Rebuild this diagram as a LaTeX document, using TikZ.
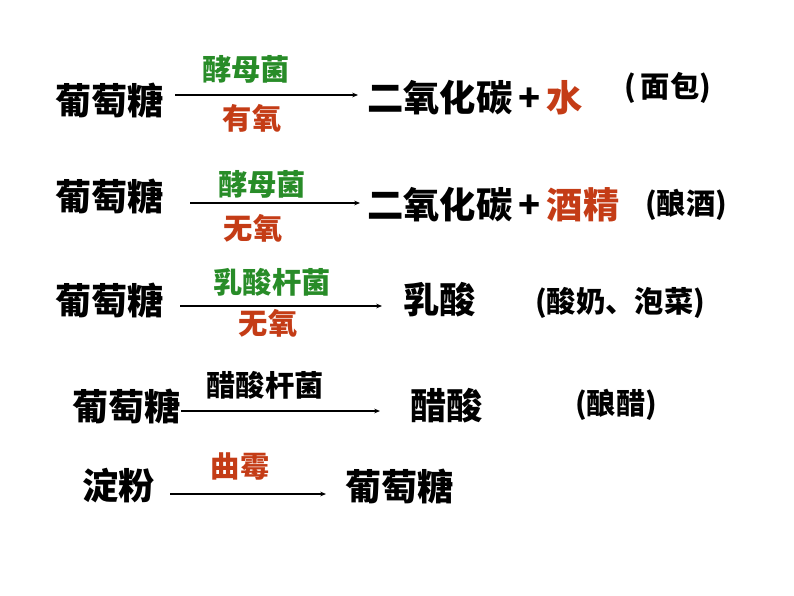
\documentclass[tikz,border=0pt]{standalone}
\usepackage{fontspec}
\setmainfont{Noto Sans CJK SC}
\usetikzlibrary{arrows.meta}
\definecolor{yeast}{RGB}{40,140,40}
\definecolor{oxy}{RGB}{196,60,22}
\tikzset{
  sub/.style={font=\fontsize{31}{33}\selectfont\bfseries, inner sep=0pt},
  microbe/.style={font=\fontsize{25}{27}\selectfont\bfseries, text=yeast, inner sep=0pt},
  cond/.style={font=\fontsize{25}{27}\selectfont\bfseries, text=oxy, inner sep=0pt},
  note/.style={font=\fontsize{25}{27}\selectfont\bfseries, inner sep=0pt},
  react/.style={-{Stealth[length=5pt,width=4pt]}, line width=1.1pt}
}

\begin{document}
\begin{tikzpicture}[x=0.03cm, y=-0.03cm]
\useasboundingbox[fill=white] (0,0) rectangle (794,596);
% bread
\node[sub, anchor=west] (glc1) at (55,100) {葡萄糖};
\coordinate (s1) at (175,95);
\coordinate (e1) at (358,95);
\draw[react] (s1) -- (e1);
\node[microbe] (yst1) at (246,69) {酵母菌};
\node[cond] (aer1) at (252,118) {有氧};
\node[sub, anchor=west] (co1) at (367,98) {二氧化碳\,+\,\textcolor{oxy}{水}};
\node[note, anchor=west] (bread) at (624,88) {(\,面包)};
% wine
\node[sub, anchor=west] (glc2) at (55,196) {葡萄糖};
\coordinate (s2) at (190,203);
\coordinate (e2) at (360,203);
\draw[react] (s2) -- (e2);
\node[microbe] (yst2) at (262,184) {酵母菌};
\node[cond] (ana2) at (253,228) {无氧};
\node[sub, anchor=west] (co2) at (367,205) {二氧化碳\,+\,\textcolor{oxy}{酒精}};
\node[note, anchor=west] (wine) at (645,205) {(酿酒)};
% yogurt
\node[sub, anchor=west] (glc3) at (55,300) {葡萄糖};
\coordinate (s3) at (180,306);
\coordinate (e3) at (382,306);
\draw[react] (s3) -- (e3);
\node[microbe] (lab3) at (272,282) {乳酸杆菌};
\node[cond] (ana3) at (268,323) {无氧};
\node[sub, anchor=west] (lac) at (403,300) {乳酸};
\node[note, anchor=west] (yog) at (535,303) {(酸奶、泡菜)};
% vinegar
\node[sub, anchor=west] (glc4) at (72,406) {葡萄糖};
\coordinate (s4) at (181,411);
\coordinate (e4) at (380,411);
\draw[react] (s4) -- (e4);
\node[microbe, text=black] (aab4) at (265,385) {醋酸杆菌};
\node[sub, anchor=west] (ace) at (410,406) {醋酸};
\node[note, anchor=west] (vin) at (575,405) {(酿醋)};
% starch
\node[sub, anchor=west] (sta) at (82,486) {淀粉};
\coordinate (s5) at (170,494);
\coordinate (e5) at (326,494);
\draw[react] (s5) -- (e5);
\node[cond] (asp) at (240,466) {曲霉};
\node[sub, anchor=west] (glc5) at (345,486) {葡萄糖};
\end{tikzpicture}
\end{document}
